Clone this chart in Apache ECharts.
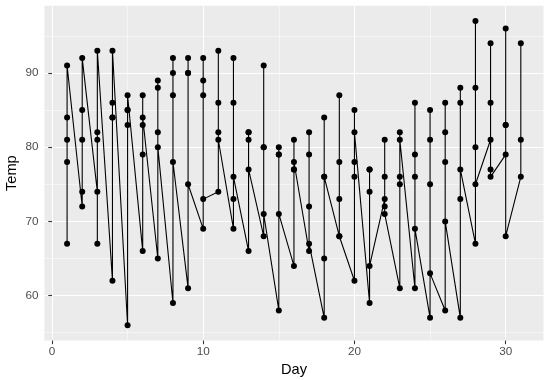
<!DOCTYPE html>
<html><head><meta charset="utf-8">
<script src="https://cdn.jsdelivr.net/npm/echarts@6/dist/echarts.min.js"></script>
<style>html,body{margin:0;padding:0;background:#fff}#c{width:549px;height:380px}</style>
</head><body><div id="c"></div>
<script>
// airquality Temp by Day, one array per month (May..Sep)
const tempMay = [67,72,74,62,56,66,65,59,61,69,74,69,66,68,58,64,66,57,68,62,59,73,61,61,57,58,57,67,81,79,76];
const tempJun = [78,74,67,84,85,79,82,87,90,87,93,92,82,80,79,77,72,65,73,76,77,76,76,76,75,78,73,80,77,83];
const tempJul = [84,85,81,84,83,83,88,92,92,89,82,73,81,91,80,81,82,84,87,85,74,81,82,86,85,82,86,88,86,83,81];
const tempAug = [81,81,82,86,85,87,89,90,90,92,86,86,82,80,79,77,79,76,78,78,77,72,75,79,81,86,88,97,94,96,94];
const tempSep = [91,92,93,93,87,84,80,78,75,73,81,76,77,71,71,78,67,76,68,82,64,71,81,69,63,70,77,75,76,68];
const months = [tempMay, tempJun, tempJul, tempAug, tempSep];
const xMajor = [0,10,20,30];
const xMinor = [5,15,25];
const yMajor = [60,70,80,90];
const yMinor = [55,65,75,85,95];

// rows in original order, then stable sort by Day (like geom_line)
const rows = [];
months.forEach(m => m.forEach((t, i) => rows.push([i + 1, t])));
const data = rows.map((r, k) => [r[0], r[1], k]).sort((a, b) => a[0] - b[0] || a[2] - b[2]).map(r => [r[0], r[1]]);

const xs = data.map(d => d[0]), ys = data.map(d => d[1]);
const xMin = Math.min(...xs), xMax = Math.max(...xs);
const yMin = Math.min(...ys), yMax = Math.max(...ys);
const xPad = (xMax - xMin) * 0.05, yPad = (yMax - yMin) * 0.05;

const font = 'Liberation Sans, Arial, sans-serif';
function mkAxis(extra) {
  return Object.assign({
    type: 'value', gridIndex: 0,
    axisLine: { show: false },
    axisTick: { show: false },
    axisLabel: { show: false },
    splitLine: { show: false }
  }, extra);
}
const chart = echarts.init(document.getElementById('c'), null, { renderer: 'canvas' });
chart.setOption({
  animation: false,
  grid: { left: 44.4, right: 5.5, top: 5.8, bottom: 39.5, show: true, backgroundColor: '#EBEBEB', borderWidth: 0,
          containLabel: false, outerBoundsMode: 'none' },
  xAxis: [
    mkAxis({
      min: xMin - xPad, max: xMax + xPad, position: 'bottom',
      name: 'Day', nameLocation: 'middle', nameGap: 22, nameMoveOverlap: false,
      nameTextStyle: { color: '#000', fontSize: 14.6, fontFamily: font },
      axisTick: { show: true, length: 3.7, customValues: xMajor, lineStyle: { color: '#333', width: 1.07 } },
      axisLabel: { show: true, customValues: xMajor, color: '#4D4D4D', fontSize: 11.7, fontFamily: font, margin: 5.5 },
      splitLine: { show: true, lineStyle: { color: '#fff', width: 1.07 } }
    }),
    mkAxis({
      min: xMin - xPad, max: xMax + xPad, position: 'top',
      axisTick: { show: false, customValues: xMinor },
      splitLine: { show: true, lineStyle: { color: '#fff', width: 0.53 } }
    })
  ],
  yAxis: [
    mkAxis({
      min: yMin - yPad, max: yMax + yPad, position: 'left',
      name: 'Temp', nameLocation: 'middle', nameGap: 25, nameRotate: 90, nameMoveOverlap: false,
      nameTextStyle: { color: '#000', fontSize: 14.6, fontFamily: font },
      axisTick: { show: true, length: 3.7, customValues: yMajor, lineStyle: { color: '#333', width: 1.07 } },
      axisLabel: { show: true, customValues: yMajor, color: '#4D4D4D', fontSize: 11.7, fontFamily: font, margin: 6 },
      splitLine: { show: true, lineStyle: { color: '#fff', width: 1.07 } }
    }),
    mkAxis({
      min: yMin - yPad, max: yMax + yPad, position: 'right',
      axisTick: { show: false, customValues: yMinor },
      splitLine: { show: true, lineStyle: { color: '#fff', width: 0.53 } }
    })
  ],
  series: [{
    type: 'line', xAxisIndex: 0, yAxisIndex: 0, data: data,
    showSymbol: true, symbol: 'circle', symbolSize: 6,
    itemStyle: { color: '#000' }, lineStyle: { color: '#000', width: 1.1 },
    z: 3
  }]
});
</script></body></html>
